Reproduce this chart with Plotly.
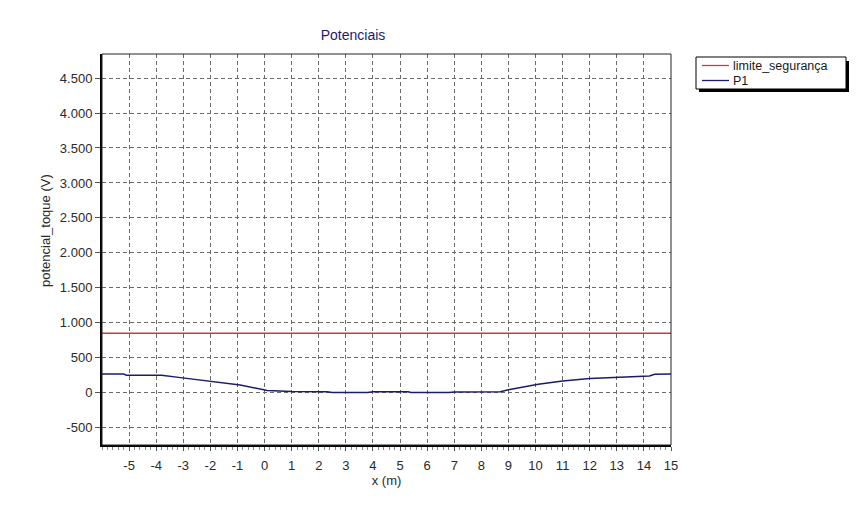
import plotly.graph_objects as go

# ---- data ----
x_limite = [-6, 15]
y_limite = [849, 849]

x_p1 = [-6, -5.2, -5.1, -3.8, -3.1, -2.0, -0.9, 0.1, 1.0, 2.3, 2.5, 3.8, 4.0, 5.3, 5.4, 6.8, 7.0, 8.7, 9.0, 10.1, 11.0, 12.0, 13.0, 14.2, 14.4, 15]
y_p1 = [265, 265, 248, 248, 214, 165, 110, 30, 15, 12, 0, 0, 12, 12, 0, 0, 10, 12, 40, 119, 165, 200, 222, 238, 262, 265]

x_tickvals = list(range(-5, 16))
x_ticktext = [str(v) for v in x_tickvals]
y_tickvals = [-500, 0, 500, 1000, 1500, 2000, 2500, 3000, 3500, 4000, 4500]
y_ticktext = ["-500", "0", "500", "1.000", "1.500", "2.000", "2.500", "3.000", "3.500", "4.000", "4.500"]

series_names = ["limite_segurança", "P1"]
series_colors = ["#cc3b3b", "#1c1c6a"]

FONT = "Liberation Sans, Arial, sans-serif"

# page body has an 8px margin: figure is drawn at (8, 8) in the window
W, H = 855, 499
L, R, T, B = 94, 192, 46, 62
PW, PH = W - L - R, H - T - B


def px(xs):  # window pixel x -> paper x
    return (xs - 8 - L) / PW


def py(ys):  # window pixel y -> paper y
    return (H - B - (ys - 8)) / PH


fig = go.Figure()
fig.add_trace(go.Scatter(x=x_limite, y=y_limite, mode="lines", name=series_names[0],
                         line=dict(color=series_colors[0], width=1.3), showlegend=False))
fig.add_trace(go.Scatter(x=x_p1, y=y_p1, mode="lines", name=series_names[1],
                         line=dict(color=series_colors[1], width=1.5), showlegend=False))

grid = dict(showgrid=True, gridcolor="#6a6a6a", gridwidth=1, griddash="4px,3px")

fig.update_layout(
    width=W, height=H,
    margin=dict(l=L, r=R, t=T, b=B, autoexpand=False),
    paper_bgcolor="white", plot_bgcolor="white",
    font=dict(family=FONT, size=13, color="#2a2a2a"),
    title=dict(text="Potenciais", x=(353 - 8) / W, xanchor="center", y=1 - (35 - 8) / H, yanchor="middle",
               font=dict(family=FONT, size=14, color="#1c1c6a")),
    showlegend=False,
    xaxis=dict(range=[-6, 15], tickvals=x_tickvals, ticktext=x_ticktext,
               ticks="outside", ticklen=4, tickcolor="#555", zeroline=False,
               showline=True, linecolor="black", linewidth=2, ticklabelstandoff=3,
               minor=dict(dtick=0.2, ticks="outside", ticklen=3, tickcolor="#888", showgrid=False),
               title=dict(text="x (m)", standoff=2, font=dict(size=13)),
               **grid),
    yaxis=dict(range=[-750, 4845], tickvals=y_tickvals, ticktext=y_ticktext,
               ticks="outside", ticklen=5, tickcolor="#555", zeroline=False,
               showline=True, linecolor="black", linewidth=2,
               **grid),
)

# y axis title
fig.add_annotation(text="potencial_toque (V)", xref="paper", yref="paper",
                   x=px(45), y=py(231), textangle=-90, showarrow=False,
                   xanchor="center", yanchor="middle", font=dict(size=13, color="#2a2a2a"))

# thin frame on top and right
fig.add_shape(type="rect", xref="x domain", yref="y domain", x0=0, x1=1, y0=0, y1=1,
              line=dict(color="#222", width=1), layer="above")

# legend box with drop shadow
fig.add_shape(type="rect", xref="paper", yref="paper", x0=px(699), x1=px(849), y0=py(92), y1=py(61),
              line=dict(width=0), fillcolor="black", layer="above")
fig.add_shape(type="rect", xref="paper", yref="paper", x0=px(696), x1=px(846), y0=py(89), y1=py(57),
              line=dict(color="black", width=1), fillcolor="white", layer="above")
rows_y = [65.5, 80.5]
for name, color, ry in zip(series_names, series_colors, rows_y):
    fig.add_shape(type="line", xref="paper", yref="paper", x0=px(702), x1=px(729), y0=py(ry), y1=py(ry),
                  line=dict(color=color, width=1.3), layer="above")
    fig.add_annotation(text=name, xref="paper", yref="paper", x=px(731), y=py(ry),
                       xanchor="left", yanchor="middle", showarrow=False,
                       font=dict(size=12.5, color="#1a1a1a"))

fig.write_html("out.html")
